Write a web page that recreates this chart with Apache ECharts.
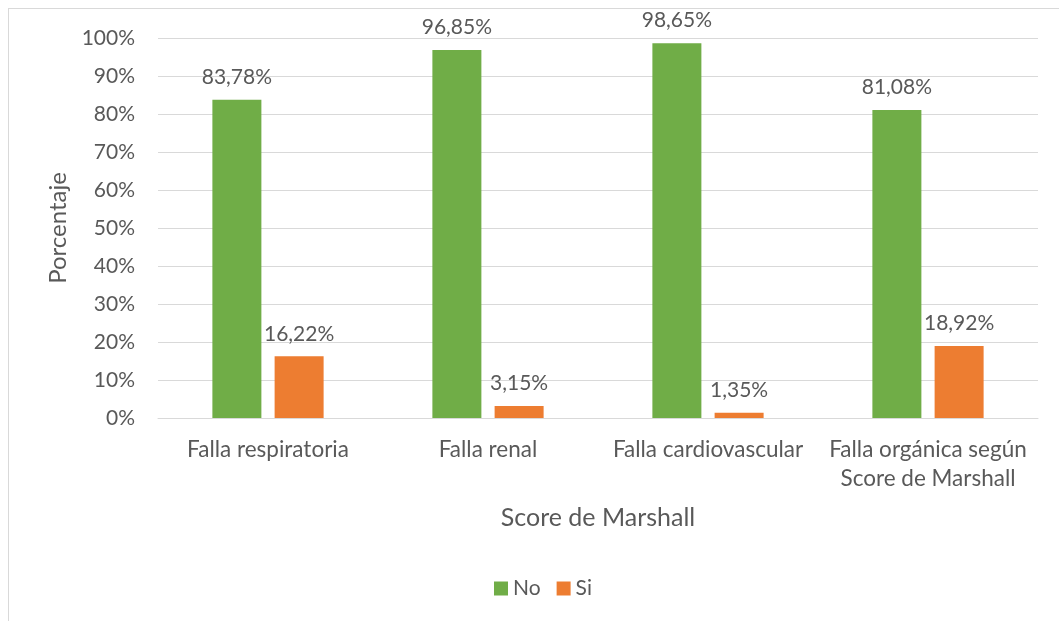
<!DOCTYPE html>
<html>
<head>
    <meta charset="utf-8">
    <title>Score de Marshall</title>
    <script src="https://cdn.jsdelivr.net/npm/echarts@6/dist/echarts.min.js"></script>
    <style>
        body {
            margin: 0;
            background: #fff;
            overflow: hidden;
        }
        .frame {
            position: absolute;
            left: 8px;
            top: 8px;
            width: 1100px;
            height: 700px;
            border: 1px solid #d9d9d9;
            box-sizing: border-box;
        }
        #chart {
            position: absolute;
            left: 0;
            top: 0;
            width: 1059px;
            height: 621px;
        }
    </style>
</head>
<body>
    <div class="frame"></div>
    <div id="chart"></div>

<script>
// datos (porcentajes)
const categorias = ['Falla respiratoria', 'Falla renal', 'Falla cardiovascular', 'Falla orgánica según\nScore de Marshall'];
const valoresNo = [83.78, 96.85, 98.65, 81.08];
const valoresSi = [16.22, 3.15, 1.35, 18.92];

const fuente = 'Lato';
const gris = '#595959';
const tam = 21;

function etiqueta(p) {
    return p.value.toFixed(2).replace('.', ',') + '%';
}

let chart = echarts.init(document.getElementById('chart'));
let option = {
    animation: false,
    textStyle: { fontFamily: fuente, color: gris },
    grid: {
        left: 158,
        right: 21,
        top: 38,
        bottom: 203
    },
    legend: {
        bottom: 17,
        left: 489,
        itemWidth: 14,
        itemHeight: 14,
        itemGap: 16,
        icon: 'rect',
        textStyle: { fontFamily: fuente, color: gris, fontSize: tam },
        data: ['No', 'Si']
    },
    xAxis: {
        type: 'category',
        data: categorias,
        name: 'Score de Marshall',
        nameLocation: 'middle',
        nameGap: 87,
        nameTextStyle: { fontFamily: fuente, color: gris, fontSize: 25 },
        axisLine: { lineStyle: { color: '#d9d9d9', width: 1 } },
        axisTick: { show: false },
        axisLabel: {
            fontFamily: fuente,
            color: gris,
            fontSize: 22.5,
            margin: 17,
            lineHeight: 29,
            interval: 0
        }
    },
    yAxis: {
        type: 'value',
        min: 0,
        max: 100,
        interval: 10,
        name: 'Porcentaje',
        nameLocation: 'middle',
        nameGap: 86,
        nameTextStyle: { fontFamily: fuente, color: gris, fontSize: 24 },
        axisLine: { show: false },
        axisTick: { show: false },
        axisLabel: {
            formatter: '{value}%',
            fontFamily: fuente,
            color: gris,
            fontSize: tam,
            margin: 23
        },
        splitLine: { lineStyle: { color: '#d9d9d9', width: 1 } }
    },
    series: [
        {
            name: 'No',
            type: 'bar',
            data: valoresNo,
            barWidth: 49,
            barGap: '27%',
            itemStyle: { color: '#70ad47' },
            label: {
                show: true,
                position: 'top',
                distance: 12,
                formatter: etiqueta,
                fontFamily: fuente,
                color: gris,
                fontSize: tam
            }
        },
        {
            name: 'Si',
            type: 'bar',
            data: valoresSi,
            barWidth: 49,
            itemStyle: { color: '#ed7d31' },
            label: {
                show: true,
                position: 'top',
                distance: 12,
                formatter: etiqueta,
                fontFamily: fuente,
                color: gris,
                fontSize: tam
            }
        }
    ]
};

chart.setOption(option);
</script>
</body>
</html>
